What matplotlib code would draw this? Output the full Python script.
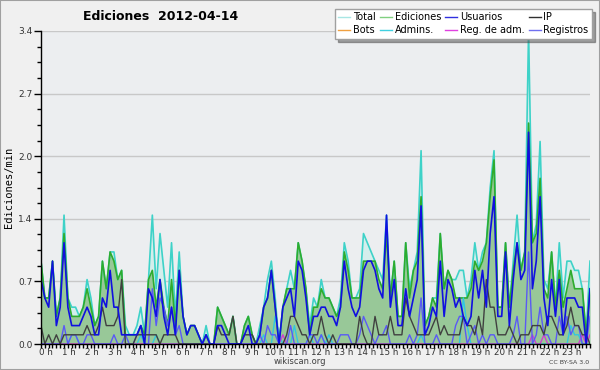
import matplotlib

matplotlib.use("Agg")
import matplotlib.pyplot as plt  # noqa: E402
import matplotlib.transforms as mtransforms  # noqa: E402
import numpy as np  # noqa: E402
from matplotlib.lines import Line2D  # noqa: E402
from matplotlib.patches import Rectangle  # noqa: E402

# counts per 10-minute slot, one row per hour (value / 10 = edits per minute)
total = [
    9, 5, 5, 9, 3, 5,  14, 5, 4, 4, 3, 4,  7, 5, 2, 3, 9, 6,  10, 10, 7, 8, 2, 1,
    1, 2, 4, 1, 7, 14,  6, 12, 8, 4, 11, 3,  10, 3, 1, 2, 2, 1,  0, 2, 0, 0, 4, 3,
    2, 1, 3, 0, 0, 2,  3, 1, 0, 2, 4, 7,  9, 5, 0, 4, 6, 8,  6, 11, 9, 6, 2, 5,
    4, 7, 5, 5, 4, 3,  5, 11, 9, 5, 5, 6,  12, 11, 10, 9, 8, 7,  14, 5, 9, 3, 3, 11,
    6, 8, 10, 21, 2, 3,  5, 5, 12, 6, 8, 7,  7, 8, 8, 5, 7, 11,  8, 10, 11, 17, 21, 4,
    4, 11, 4, 9, 14, 8,  10, 34, 11, 13, 22, 7,  6, 10, 4, 11, 5, 9,  9, 8, 8, 6, 1, 9,
]
ediciones = [
    9, 5, 5, 9, 3, 5,  12, 5, 3, 3, 3, 4,  6, 4, 2, 3, 9, 6,  10, 9, 7, 8, 1, 1,
    1, 1, 2, 1, 7, 8,  4, 7, 4, 2, 7, 2,  8, 3, 1, 2, 2, 1,  0, 1, 0, 0, 4, 3,
    2, 1, 3, 0, 0, 2,  3, 1, 0, 1, 4, 5,  8, 4, 0, 4, 6, 6,  6, 11, 9, 6, 1, 4,
    4, 6, 5, 5, 4, 3,  4, 10, 8, 5, 5, 5,  9, 9, 9, 9, 7, 6,  12, 5, 9, 3, 3, 11,
    5, 8, 9, 16, 2, 3,  5, 4, 12, 6, 8, 7,  5, 5, 5, 5, 6, 9,  8, 9, 11, 16, 20, 4,
    4, 11, 4, 8, 11, 8,  10, 24, 11, 12, 18, 6,  5, 10, 4, 8, 4, 6,  8, 6, 6, 6, 1, 6,
]
usuarios = [
    7, 5, 4, 9, 2, 4,  11, 4, 2, 2, 2, 3,  4, 3, 1, 1, 5, 4,  8, 4, 4, 1, 1, 1,
    1, 1, 2, 0, 6, 5,  3, 7, 3, 1, 4, 1,  8, 3, 1, 2, 2, 1,  0, 1, 0, 0, 2, 2,
    1, 0, 0, 0, 0, 1,  2, 0, 0, 1, 4, 5,  8, 4, 0, 4, 5, 6,  3, 9, 8, 5, 1, 3,
    3, 4, 4, 3, 3, 2,  4, 9, 6, 4, 3, 4,  8, 9, 9, 8, 6, 5,  14, 4, 7, 2, 2, 6,
    3, 5, 7, 15, 1, 2,  4, 3, 9, 3, 7, 6,  4, 5, 3, 2, 3, 8,  5, 8, 4, 12, 16, 3,
    3, 10, 2, 7, 11, 7,  8, 23, 6, 9, 16, 5,  2, 7, 3, 7, 1, 5,  5, 5, 4, 4, 0, 6,
]
ip = [
    2, 0, 1, 0, 1, 0,  1, 1, 1, 1, 1, 1,  2, 1, 1, 2, 4, 2,  2, 2, 3, 7, 0, 0,
    0, 1, 1, 1, 1, 1,  1, 0, 1, 1, 1, 1,  0, 0, 0, 0, 0, 0,  0, 0, 0, 0, 2, 1,
    1, 1, 3, 0, 0, 1,  1, 1, 0, 0, 0, 0,  0, 0, 0, 0, 1, 3,  3, 2, 1, 1, 0, 1,
    1, 3, 1, 0, 1, 0,  0, 0, 0, 0, 0, 3,  1, 0, 0, 3, 1, 1,  1, 3, 1, 1, 1, 5,
    3, 2, 1, 1, 1, 1,  2, 3, 1, 2, 1, 1,  1, 1, 3, 2, 2, 1,  3, 1, 7, 4, 4, 1,
    1, 1, 2, 1, 0, 1,  1, 1, 2, 2, 2, 1,  3, 3, 2, 1, 1, 2,  4, 2, 2, 1, 1, 0,
]
registros = [
    0, 0, 0, 0, 0, 0,  2, 0, 1, 1, 0, 0,  1, 1, 0, 0, 0, 0,  0, 1, 0, 0, 1, 0,
    0, 1, 2, 0, 0, 6,  2, 5, 4, 2, 4, 1,  2, 0, 0, 0, 0, 0,  0, 1, 0, 0, 0, 0,
    0, 0, 0, 0, 0, 0,  0, 0, 0, 1, 0, 2,  1, 1, 0, 0, 0, 2,  0, 0, 0, 0, 1, 1,
    0, 1, 0, 0, 0, 0,  1, 1, 1, 0, 0, 1,  3, 2, 1, 0, 1, 1,  2, 0, 0, 0, 0, 0,
    1, 0, 1, 5, 0, 0,  0, 1, 0, 0, 0, 0,  2, 3, 3, 0, 1, 2,  0, 1, 0, 1, 1, 0,
    0, 0, 0, 1, 3, 0,  0, 10, 0, 1, 4, 1,  1, 0, 0, 3, 1, 3,  1, 2, 2, 0, 0, 3,
]
admins = [
    0, 0, 0, 0, 0, 0,  0, 0, 1, 1, 0, 0,  0, 0, 0, 0, 0, 0,  0, 0, 0, 0, 0, 0,
    0, 0, 1, 0, 0, 0,  1, 0, 0, 0, 0, 0,  0, 0, 0, 0, 0, 0,  0, 0, 0, 0, 0, 0,
    0, 0, 0, 0, 0, 0,  0, 0, 0, 0, 1, 0,  0, 3, 1, 0, 0, 0,  2, 0, 0, 0, 1, 0,
    0, 1, 0, 1, 0, 0,  0, 0, 0, 0, 0, 0,  0, 0, 0, 0, 0, 0,  0, 0, 0, 0, 0, 0,
    0, 0, 0, 1, 0, 0,  0, 0, 0, 0, 0, 0,  0, 0, 5, 2, 0, 0,  0, 0, 0, 0, 0, 0,
    0, 0, 0, 0, 0, 0,  0, 0, 0, 0, 0, 0,  0, 0, 0, 0, 0, 0,  2, 1, 1, 0, 0, 0,
]
reg_adm = [0] * 63 + [1] + [0] * 64 + [1, 0, 0, 1] + [0] * 9 + [1, 0, 1]
bots = [0] * 144

hour_labels = [f"{h} h" for h in range(24)]
y_ticks = np.linspace(0, 3.4, 6)

BG = "#f0f0f0"
PLOT_BG = "#eceef0"

fig = plt.figure(figsize=(6, 3.7), dpi=100, facecolor=BG)
ax = fig.add_axes([41 / 600, 26 / 370, 549 / 600, 313 / 370], facecolor=PLOT_BG)

t = np.linspace(0, 24, len(total))
tot = np.array(total) / 10
edi = np.array(ediciones) / 10

ax.fill_between(t, tot, color="#d4eeec", lw=0, zorder=1)
ax.fill_between(t, edi, color="#98c898", lw=0, zorder=1.1)
ax.plot(t, tot, color="#3ed2c8", lw=1.2, zorder=2)
ax.plot(t, edi, color="#2eac2e", lw=1.2, zorder=2.1)
ax.plot(t, np.array(bots) / 10, color="#f0a030", lw=1, zorder=2.2)
ax.plot(t, np.array(admins) / 10, color="#30c8e0", lw=1, zorder=2.2)
ax.plot(t, np.array(reg_adm) / 10, color="#d040d0", lw=1, zorder=2.2)
ax.plot(t, np.array(registros) / 10, color="#5a5af5", lw=1, zorder=2.3)
ax.plot(t, np.array(ip) / 10, color="#404040", lw=1, zorder=2.4)
ax.plot(t, np.array(usuarios) / 10, color="#1010e0", lw=1.2, zorder=2.5)

ax.set_xlim(0, 24)
ax.set_ylim(0, 3.4)
ax.set_yticks(y_ticks)
ax.set_yticklabels([f"{v:.1f}" for v in y_ticks])
ax.set_yticks(np.linspace(0, 3.4, 21), minor=True)
ax.set_xticks(range(24))
ax.set_xticklabels(hour_labels)
ax.set_xticks(np.arange(0, 24.01, 1 / 6), minor=True)
ax.grid(axis="y", which="major", color="#c8c8c8", lw=1, zorder=0.5)
ax.set_axisbelow(True)
for side in ("top", "right"):
    ax.spines[side].set_visible(False)
for side in ("left", "bottom"):
    ax.spines[side].set_linewidth(1)
ax.tick_params(which="major", direction="out", length=5, width=1, labelsize=6.5, pad=1)
ax.tick_params(which="minor", direction="out", length=3, width=1)
ax.tick_params(axis="x", which="major", length=3, pad=0, labelsize=6.3)
shift = mtransforms.ScaledTranslation(3.6 / 72, 0, fig.dpi_scale_trans)
for lbl in ax.get_xticklabels():
    lbl.set_transform(lbl.get_transform() + shift)
    lbl.set_color("#333333")
for lbl in ax.get_yticklabels():
    lbl.set_color("#333333")

ax.set_ylabel("Ediciones/min", family="DejaVu Sans Mono", fontsize=7.5, labelpad=3)
fig.text(161 / 600, 1 - 16 / 370, "Ediciones  2012-04-14", ha="center", va="center",
         fontsize=9, fontweight="bold")
fig.text(0.5, 1 - 362 / 370, "wikiscan.org", ha="center", va="center", fontsize=6, color="#404040")
fig.text(589 / 600, 1 - 363 / 370, "CC BY-SA 3.0", ha="right", va="center", fontsize=4.5, color="#404040")

names = ["Total", "Bots", "Ediciones", "Admins.", "Usuarios", "Reg. de adm.", "IP", "Registros"]
colors = ["#a8e6e4", "#f0a040", "#80d080", "#40d0e0", "#3030e0", "#e040e0", "#303030", "#7070f0"]
handles = [Line2D([], [], color=c, lw=1) for c in colors]
leg = fig.legend(handles, names, ncol=4, loc="upper right", bbox_to_anchor=(592 / 600, 1 - 9 / 370),
                 fontsize=7, frameon=True, fancybox=False, shadow=True, handlelength=1.2,
                 handletextpad=0.3, columnspacing=0.45, labelspacing=0.3, borderpad=0.35,
                 borderaxespad=0)
leg.get_frame().set_edgecolor("#a0a0a0")
leg.get_frame().set_facecolor("white")
leg.get_frame().set_alpha(1)

fig.patches.append(Rectangle((0, 0), 1, 1, transform=fig.transFigure, fill=False,
                             edgecolor="#a0a0a0", lw=1.5))

fig.savefig("out.png", dpi=100, facecolor=BG)
